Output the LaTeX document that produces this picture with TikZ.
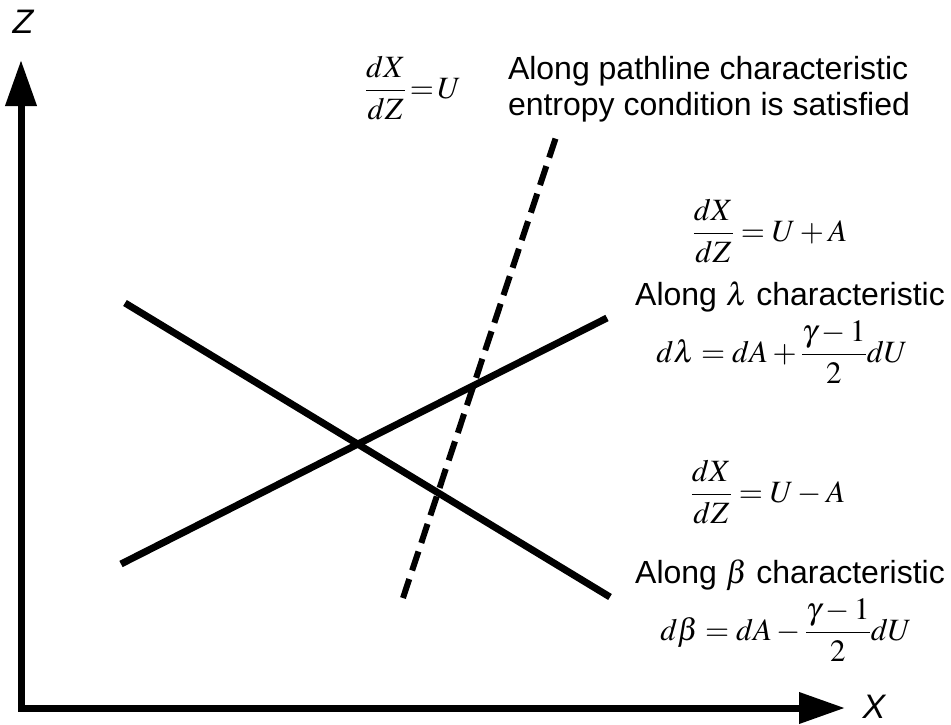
\documentclass[tikz,border=0pt]{standalone}
\usepackage{amsmath}
\usepackage{mathptmx}
\usepackage[no-math]{fontspec}
\setsansfont{Liberation Sans}
\usetikzlibrary{arrows.meta}

\begin{document}
\begin{tikzpicture}[x=1pt, y=-1pt,
  axis/.style={line width=7pt, {Triangle[length=46pt,width=30pt]}-{Triangle[length=46pt,width=30pt]}},
  axislbl/.style={font=\fontsize{34}{36}\selectfont\sffamily\itshape, inner sep=0pt},
  charline/.style={line width=7pt},
  pathline/.style={line width=6pt, dash pattern=on 20pt off 9pt},
  lbl/.style={font=\fontsize{32}{36}\selectfont\sffamily, align=left, inner sep=0pt},
  eqn/.style={font=\fontsize{31}{36}\selectfont, inner sep=0pt}]
\useasboundingbox (0,0) rectangle (951,725);
% axes
\coordinate (ztop) at (21,60);
\coordinate (O) at (21,708);
\coordinate (xend) at (845,708);
\draw[axis] (ztop) -- (O) -- (xend);
\node[axislbl] (zlab) at (23,22) {Z};
\node[axislbl] (xlab) at (874,707) {X};
% characteristics
\coordinate (lamA) at (121,564);
\coordinate (lamB) at (607,318);
\coordinate (betA) at (125,303);
\coordinate (betB) at (610,597);
\coordinate (pathA) at (403,598);
\coordinate (pathB) at (556,137);
\draw[charline] (lamA) -- (lamB);
\draw[charline] (betA) -- (betB);
\draw[pathline] (pathA) -- (pathB);
% pathline labels
\node[eqn] (pathEq) at (413,88) {$\dfrac{dX}{dZ}\!=\!U$};
\node[lbl] (pathTxt) at (709,89) {Along pathline characteristic\\entropy condition is satisfied};
% lambda labels
\node[eqn] (lamSlope) at (770,231) {$\dfrac{dX}{dZ}=U+A$};
\node[lbl] (lamTxt) at (790,297) {Along $\lambda$ characteristic};
\node[eqn] (lamEq) at (782,352) {$d\lambda=dA+\dfrac{\gamma-1}{2}dU$};
% beta labels
\node[eqn] (betSlope) at (768,492) {$\dfrac{dX}{dZ}=U-A$};
\node[lbl] (betTxt) at (790,575) {Along $\beta$ characteristic};
\node[eqn] (betEq) at (786,630) {$d\beta=dA-\dfrac{\gamma-1}{2}dU$};
\end{tikzpicture}
\end{document}
